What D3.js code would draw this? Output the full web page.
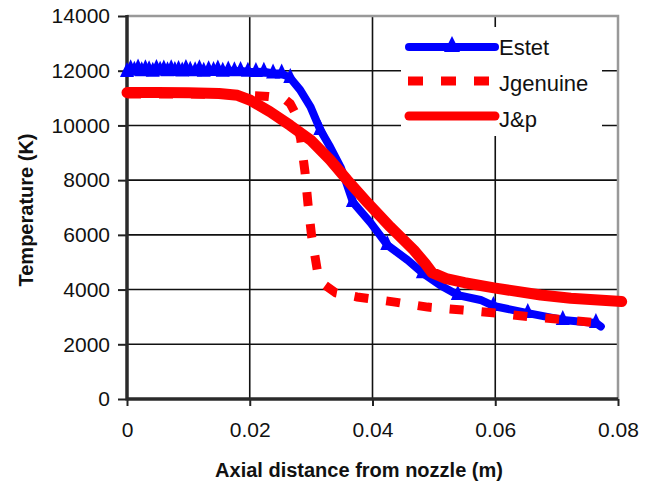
<!DOCTYPE html>
<html>
<head>
<meta charset="utf-8">
<script src="https://cdn.jsdelivr.net/npm/d3@7"></script>
<style>
body { margin: 0; background: #fff; }
text { font-family: "Liberation Sans", Arial, sans-serif; fill: #111; }
</style>
</head>
<body>
<div id="chart"></div>
<script>
// axis ticks
var xTicks = [0, 0.02, 0.04, 0.06, 0.08];
var yTicks = [0, 2000, 4000, 6000, 8000, 10000, 12000, 14000];

// Estet (blue, triangles)
var estetX = [0, 0.0006, 0.0012, 0.0018, 0.0024, 0.003, 0.0036, 0.0042, 0.0048, 0.0054,
  0.006, 0.0066, 0.0072, 0.0078, 0.0084, 0.009, 0.0096, 0.0103, 0.0111, 0.0118,
  0.0125, 0.0133, 0.0141, 0.0148, 0.0156, 0.0165, 0.0175, 0.0185, 0.0197, 0.021,
  0.0223, 0.0238, 0.0252, 0.0266, 0.0282, 0.0299, 0.0315, 0.0331, 0.0348, 0.0356,
  0.0368, 0.0397, 0.0424, 0.0457, 0.0482, 0.0511, 0.0539, 0.0576, 0.0597, 0.0653,
  0.071, 0.0764, 0.0772];
var estetT = [11950, 12050, 12000, 12080, 11980, 12050, 12020, 11960, 12060, 12000,
  12040, 11980, 12050, 11990, 12030, 11970, 12060, 12000, 11980, 12050,
  11960, 12020, 11990, 12040, 11960, 12010, 11980, 11990, 11960, 11950,
  11960, 11900, 11900, 11736, 11300, 10680, 9835, 9210, 8480, 8000,
  7200, 6440, 5630, 5080, 4600, 4150, 3800, 3620, 3400, 3140,
  2890, 2780, 2650];
var estetMark = [1, 1, 1, 1, 1, 1, 1, 1, 1, 1,
  1, 1, 1, 1, 1, 1, 1, 1, 1, 1,
  1, 1, 1, 1, 1, 1, 1, 1, 1, 1,
  1, 1, 1, 1, 0, 0, 1, 0, 0, 0,
  1, 0, 1, 0, 1, 0, 1, 0, 1, 1,
  1, 1, 0];

// Jgenuine (red dashed)
var genuineX = [0, 0.01, 0.018, 0.023, 0.0255, 0.0266, 0.0273, 0.0283, 0.029, 0.0295,
  0.0301, 0.031, 0.0322, 0.034, 0.0375, 0.0434, 0.049, 0.0547, 0.0604, 0.0658,
  0.0718, 0.0767];
var genuineT = [11150, 11150, 11120, 11060, 11000, 10800, 10500, 9500, 8300, 7100,
  5920, 4720, 4170, 3880, 3730, 3550, 3360, 3250, 3140, 3000,
  2890, 2780];

// J&p (red solid)
var jpX = [0, 0.005, 0.01, 0.015, 0.018, 0.0201, 0.0233, 0.0266, 0.0299, 0.0331,
  0.0359, 0.0392, 0.0429, 0.0467, 0.0486, 0.0497, 0.052, 0.055, 0.0598, 0.0674,
  0.0723, 0.0806];
var jpT = [11200, 11200, 11190, 11170, 11100, 10920, 10500, 10000, 9470, 8740,
  8000, 7170, 6290, 5450, 4950, 4620, 4400, 4250, 4060, 3800,
  3680, 3560];

var seriesNames = ["Estet", "Jgenuine", "J&p"];

var w = 650;
var h = 484;
var pLeft = 127, pRight = 618, pTop = 16, pBottom = 399;

var svg = d3.select("#chart").append("svg")
  .attr("width", w)
  .attr("height", h);

var x = d3.scaleLinear().domain([0, 0.08]).range([pLeft, pRight]);
var y = d3.scaleLinear().domain([0, 14000]).range([pBottom, pTop]);

// grid
svg.selectAll("line.vgrid")
  .data(xTicks.slice(1, -1))
  .enter()
  .append("line")
  .attr("class", "vgrid")
  .attr("x1", function(d){ return x(d); })
  .attr("x2", function(d){ return x(d); })
  .attr("y1", pTop)
  .attr("y2", pBottom)
  .attr("stroke", "#111")
  .attr("stroke-width", 1.6);

svg.selectAll("line.hgrid")
  .data(yTicks.slice(1, -1))
  .enter()
  .append("line")
  .attr("class", "hgrid")
  .attr("x1", pLeft)
  .attr("x2", pRight)
  .attr("y1", function(d){ return y(d); })
  .attr("y2", function(d){ return y(d); })
  .attr("stroke", "#111")
  .attr("stroke-width", 1.6);

// top / right border (grey)
svg.append("path")
  .attr("d", "M" + pLeft + "," + pTop + "H" + pRight + "V" + pBottom)
  .attr("fill", "none")
  .attr("stroke", "#999")
  .attr("stroke-width", 2.5);

// axes
var yAxis = svg.append("g")
  .attr("transform", "translate(" + pLeft + ",0)")
  .call(d3.axisLeft(y).tickValues(yTicks).tickSize(9).tickPadding(8).tickFormat(d3.format("d")));
var xAxis = svg.append("g")
  .attr("transform", "translate(0," + pBottom + ")")
  .call(d3.axisBottom(x).tickValues(xTicks).tickSize(7).tickPadding(16).tickFormat(function(d){ return d === 0 ? "0" : d3.format(".2f")(d); }));

[xAxis, yAxis].forEach(function(g){
  g.attr("font-size", 21).attr("font-family", "Liberation Sans, Arial, sans-serif");
  g.select(".domain").remove();
  g.selectAll(".tick line").attr("stroke", "#222").attr("stroke-width", 2);
  g.selectAll(".tick text").attr("fill", "#111");
});

svg.append("line")
  .attr("x1", pLeft).attr("x2", pLeft)
  .attr("y1", pTop - 1).attr("y2", pBottom + 1.5)
  .attr("stroke", "#2a2a2a").attr("stroke-width", 3.5);
svg.append("line")
  .attr("x1", pLeft).attr("x2", pRight)
  .attr("y1", pBottom).attr("y2", pBottom)
  .attr("stroke", "#2a2a2a").attr("stroke-width", 3.5);

// legend background covers the grid
svg.append("rect")
  .attr("x", 401).attr("y", 27)
  .attr("width", 201).attr("height", 109)
  .attr("fill", "#fff");

// series
function pts(xs, ys){
  return xs.map(function(d, i){ return [d, ys[i]]; });
}
var line = d3.line()
  .x(function(d){ return x(d[0]); })
  .y(function(d){ return y(d[1]); });

var tri = "M0,-10L7,5L-7,5Z";

var estet = pts(estetX, estetT);
svg.append("path")
  .attr("d", line(estet))
  .attr("fill", "none")
  .attr("stroke", "#0000ff")
  .attr("stroke-width", 8)
  .attr("stroke-linejoin", "round")
  .attr("stroke-linecap", "round");
svg.selectAll("path.tri")
  .data(estet.filter(function(d, i){ return estetMark[i] === 1; }))
  .enter()
  .append("path")
  .attr("class", "tri")
  .attr("d", tri)
  .attr("transform", function(d){ return "translate(" + x(d[0]) + "," + y(d[1]) + ")"; })
  .attr("fill", "#0000ff");

svg.append("path")
  .attr("d", line(pts(genuineX, genuineT)))
  .attr("fill", "none")
  .attr("stroke", "#ff0000")
  .attr("stroke-width", 9)
  .attr("stroke-dasharray", "14,18");

svg.append("path")
  .attr("d", line(pts(jpX, jpT)))
  .attr("fill", "none")
  .attr("stroke", "#ff0000")
  .attr("stroke-width", 11)
  .attr("stroke-linejoin", "round")
  .attr("stroke-linecap", "round");

// legend
var legendY = [47, 81, 116];
var lg = svg.selectAll("g.leg")
  .data(seriesNames)
  .enter()
  .append("g")
  .attr("class", "leg")
  .attr("transform", function(d, i){ return "translate(0," + legendY[i] + ")"; });

lg.append("line")
  .attr("x1", function(d, i){ return i === 1 ? 408 : 409; })
  .attr("x2", function(d, i){ return i === 1 ? 490 : 495; })
  .attr("y1", 0).attr("y2", 0)
  .attr("stroke", function(d, i){ return i === 0 ? "#0000ff" : "#ff0000"; })
  .attr("stroke-width", function(d, i){ return i === 0 ? 8 : 9; })
  .attr("stroke-linecap", function(d, i){ return i === 1 ? "butt" : "round"; })
  .attr("stroke-dasharray", function(d, i){ return i === 1 ? "15,18" : null; });

lg.filter(function(d, i){ return i === 0; })
  .append("path")
  .attr("d", "M0,-11L8,5L-8,5Z")
  .attr("transform", "translate(452,0)")
  .attr("fill", "#0000ff");

lg.append("text")
  .attr("x", 499)
  .attr("y", function(d, i){ return i === 2 ? 11 : (i === 1 ? 10 : 8); })
  .attr("font-size", 22)
  .text(function(d){ return d; });

// axis titles
svg.append("text")
  .attr("x", 359)
  .attr("y", 477)
  .attr("text-anchor", "middle")
  .attr("font-size", 20)
  .attr("font-weight", "bold")
  .text("Axial distance from nozzle (m)");

svg.append("text")
  .attr("transform", "translate(33,210) rotate(-90)")
  .attr("text-anchor", "middle")
  .attr("font-size", 20)
  .attr("font-weight", "bold")
  .text("Temperature (K)");
</script>
</body>
</html>
